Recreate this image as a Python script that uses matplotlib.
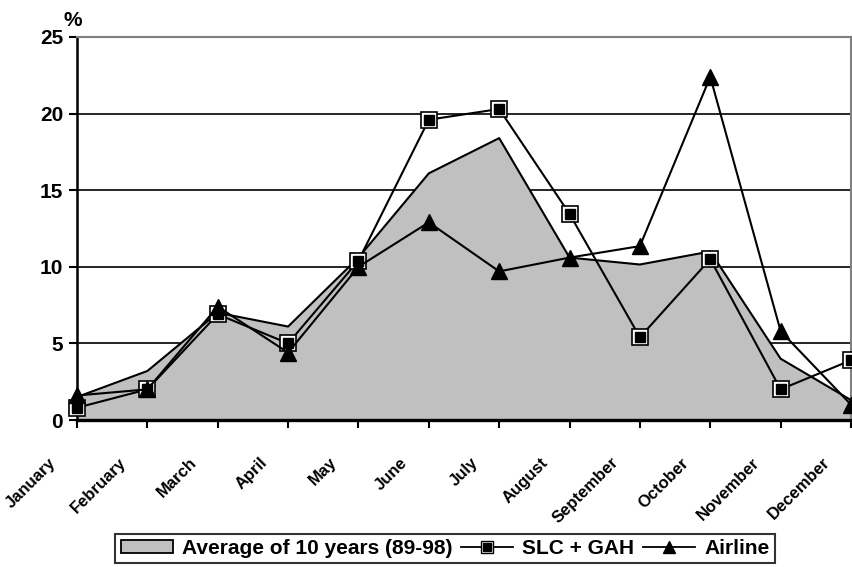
import matplotlib
matplotlib.use("Agg")
import matplotlib.pyplot as plt
from matplotlib.patches import Patch
from matplotlib.lines import Line2D
from matplotlib.legend_handler import HandlerTuple
from matplotlib.transforms import ScaledTranslation

plt.rcParams['font.family'] = ['Liberation Sans', 'DejaVu Sans']
plt.rcParams['font.weight'] = 'bold'

months = ['January', 'February', 'March', 'April', 'May', 'June', 'July',
          'August', 'September', 'October', 'November', 'December']
average = [1.5, 3.2, 7.0, 6.1, 10.6, 16.1, 18.4, 10.6, 10.15, 11.0, 4.0, 1.3]
slc_gah = [0.8, 2.0, 6.9, 5.0, 10.4, 19.6, 20.3, 13.45, 5.4, 10.5, 2.0, 3.9]
airline = [1.6, 2.0, 7.4, 4.4, 10.0, 12.9, 9.7, 10.6, 11.35, 22.4, 5.8, 1.0]
yticks = [0, 5, 10, 15, 20, 25]

W, H = 852, 567
fig = plt.figure(figsize=(W / 100, H / 100), dpi=100)
ax = fig.add_axes([77 / W, 1 - 420 / H, (851 - 77) / W, (420 - 37) / H])

x = list(range(len(months)))

# gridlines
for v in yticks[1:-1]:
    ax.axhline(v, color='black', lw=1.2, zorder=1)

ax.fill_between(x, 0, average, facecolor='#c0c0c0', edgecolor='none', zorder=2)
ax.plot(x, average, color='black', lw=1.5, zorder=3)

# SLC + GAH: black square inside a white ring with black outline
ax.plot(x, slc_gah, color='black', lw=1.5, marker='s', ms=11, mfc='white',
        mec='black', mew=1.2, zorder=4, clip_on=False)
ax.plot(x, slc_gah, ls='none', marker='s', ms=7.5, mfc='black', mec='black',
        zorder=5, clip_on=False)

ax.plot(x, airline, color='black', lw=1.5, marker='^', ms=12, mfc='black',
        mec='black', zorder=6, clip_on=False)

ax.set_xlim(0, 11)
ax.set_ylim(0, 25)
ax.set_yticks(yticks)
ax.set_yticklabels([str(v) for v in yticks], fontsize=15, fontweight='bold')
ax.set_xticks(x)
ax.set_xticklabels([])
ax.tick_params(axis='both', direction='out', length=6, width=1.5, colors='black')
ax.tick_params(axis='y', pad=4)

# month labels, rotated, set a bit left of each tick like the original
lab_tr = ax.get_xaxis_transform() + ScaledTranslation(-0.29, -0.35, fig.dpi_scale_trans)
for i, m in enumerate(months):
    ax.text(i, 0, m, transform=lab_tr, rotation=45, rotation_mode='anchor',
            ha='right', va='top', fontsize=12, fontweight='bold')

ax.spines['left'].set_linewidth(1.8)
ax.spines['bottom'].set_linewidth(2.4)
ax.spines['top'].set_color('#808080')
ax.spines['right'].set_color('#808080')
ax.spines['top'].set_linewidth(1.5)
ax.spines['right'].set_linewidth(1.5)

fig.text(73 / W, 1 - 21 / H, '%', fontsize=15, fontweight='bold',
         ha='center', va='center')

h_area = Patch(facecolor='#c0c0c0', edgecolor='black', lw=1.3)
h_sq_outer = Line2D([], [], color='black', lw=1.3, marker='s', ms=8, mfc='white', mec='black')
h_sq_inner = Line2D([], [], ls='none', marker='s', ms=5.5, mfc='black', mec='black')
h_tri = Line2D([], [], color='black', lw=1.3, marker='^', ms=9, mfc='black', mec='black')
leg = fig.legend([h_area, (h_sq_outer, h_sq_inner), h_tri],
                 ['Average of 10 years (89-98)', 'SLC + GAH', 'Airline'],
                 handler_map={tuple: HandlerTuple(ndivide=1, pad=0)},
                 loc='lower center', bbox_to_anchor=(445 / W, -0.012), ncol=3,
                 fontsize=15, frameon=True, fancybox=False, edgecolor='black',
                 handlelength=2.5, handleheight=0.6, handletextpad=0.45,
                 columnspacing=0.4, borderpad=0.25)
leg.get_frame().set_linewidth(1.5)
for t in leg.get_texts():
    t.set_fontweight('bold')

fig.savefig('out.png', dpi=100)
